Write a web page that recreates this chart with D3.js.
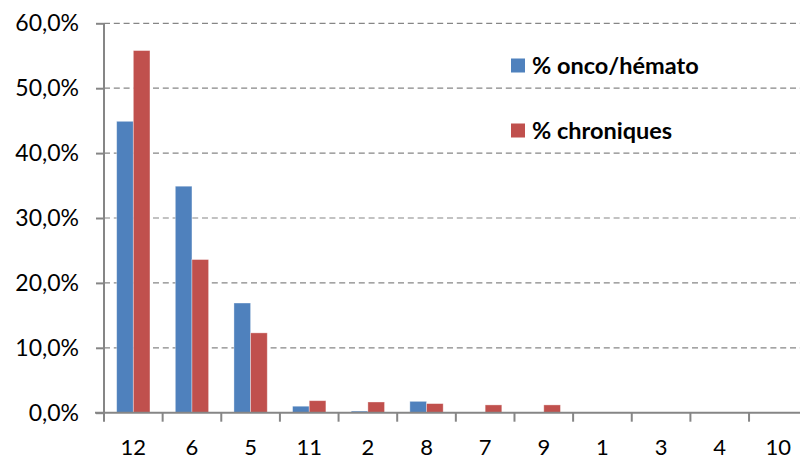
<!DOCTYPE html>
<html>
<head>
<meta charset="utf-8">
<script src="https://cdn.jsdelivr.net/npm/d3@7"></script>
<style>
  body { margin: 0; background: #fff; }
  svg { display: block; font-family: Lato, "Open Sans", sans-serif; }
</style>
</head>
<body>
<div id="chart"></div>
<script>
// categories in display order
const categories = ["12", "6", "5", "11", "2", "8", "7", "9", "1", "3", "4", "10"];
const seriesNames = ["% onco/hémato", "% chroniques"];
// values in %
const oncoValues = [44.9, 34.9, 16.9, 1.0, 0.25, 1.75, 0, 0, 0, 0, 0, 0];
const chroniqueValues = [55.8, 23.6, 12.3, 1.85, 1.65, 1.4, 1.2, 1.2, 0.08, 0.08, 0, 0];
const yTicks = [0, 10, 20, 30, 40, 50, 60];
const colors = ["#4F81BD", "#C0504D"];

const width = 800, height = 459;
const margin = {top: 23.3, left: 104, bottom: 46.3};
const plotRight = 104 + 12 * 58.64;

let data = categories.map((c, i) => ({cat: c, vals: [oncoValues[i], chroniqueValues[i]]}));

let svg = d3.select("#chart").append("svg")
    .attr("width", width)
    .attr("height", height);

let x0 = d3.scaleBand()
    .domain(categories)
    .range([margin.left, plotRight]);

let x1 = d3.scaleBand()
    .domain([0, 1])
    .range([x0.bandwidth() * 0.216, x0.bandwidth() * 0.784]);

let y = d3.scaleLinear()
    .domain([0, 60])
    .range([height - margin.bottom, margin.top]);

// gridlines
svg.append("g")
    .selectAll("line")
    .data(yTicks.filter(d => d > 0))
    .join("line")
    .attr("x1", margin.left)
    .attr("x2", plotRight)
    .attr("y1", d => y(d))
    .attr("y2", d => y(d))
    .attr("stroke", "#868686")
    .attr("stroke-width", 1.2)
    .attr("stroke-dasharray", "6,3.8");

// bars
let groups = svg.append("g")
    .selectAll("g")
    .data(data)
    .join("g")
    .attr("transform", d => "translate(" + x0(d.cat) + ",0)");

groups.selectAll("rect")
    .data(d => d.vals.map((v, i) => ({v: v, i: i})))
    .join("rect")
    .attr("x", d => x1(d.i))
    .attr("width", x1.bandwidth())
    .attr("y", d => y(d.v))
    .attr("height", d => y(0) - y(d.v))
    .attr("fill", d => colors[d.i])
    .attr("stroke", d => d.v > 0 ? "rgba(255,255,255,0.45)" : "none")
    .attr("stroke-width", 0.8);

// y axis
let yAxis = d3.axisLeft(y)
    .tickValues(yTicks)
    .tickSize(8)
    .tickPadding(17)
    .tickFormat(d => d3.format(".1f")(d).replace(".", ",") + "%");

let gy = svg.append("g")
    .attr("transform", "translate(" + margin.left + ",0)")
    .call(yAxis);
gy.select(".domain").attr("stroke", "#868686").attr("stroke-width", 2)
    .attr("d", "M0," + y(60) + "V" + y(0));
gy.selectAll(".tick line").attr("stroke", "#868686").attr("stroke-width", 2);
gy.selectAll(".tick text")
    .attr("font-size", 23)
    .attr("fill", "#000")
    .attr("font-family", "Lato, sans-serif");

// x axis
let xAxis = d3.axisBottom(x0)
    .tickSize(0)
    .tickPadding(27);

let gx = svg.append("g")
    .attr("transform", "translate(0," + y(0) + ")")
    .call(xAxis);
gx.select(".domain").attr("stroke", "#868686").attr("stroke-width", 2)
    .attr("d", "M" + (margin.left - 9) + ",0H" + plotRight);
gx.selectAll(".tick text")
    .attr("font-size", 22)
    .attr("fill", "#000")
    .attr("font-family", "Lato, sans-serif");

// category boundary ticks
svg.append("g")
    .selectAll("line")
    .data(categories)
    .join("line")
    .attr("x1", d => x0(d))
    .attr("x2", d => x0(d))
    .attr("y1", y(0))
    .attr("y2", y(0) + 9)
    .attr("stroke", "#868686")
    .attr("stroke-width", 2);

// legend
let legend = svg.append("g")
    .selectAll("g")
    .data(seriesNames)
    .join("g")
    .attr("transform", (d, i) => "translate(511," + (58.5 + i * 65) + ")");

legend.append("rect")
    .attr("width", 14)
    .attr("height", 14)
    .attr("fill", (d, i) => colors[i]);

legend.append("text")
    .attr("x", 21)
    .attr("y", 15)
    .attr("font-size", 23.5)
    .attr("font-weight", "bold")
    .attr("fill", "#000")
    .text(d => d);
</script>
</body>
</html>
